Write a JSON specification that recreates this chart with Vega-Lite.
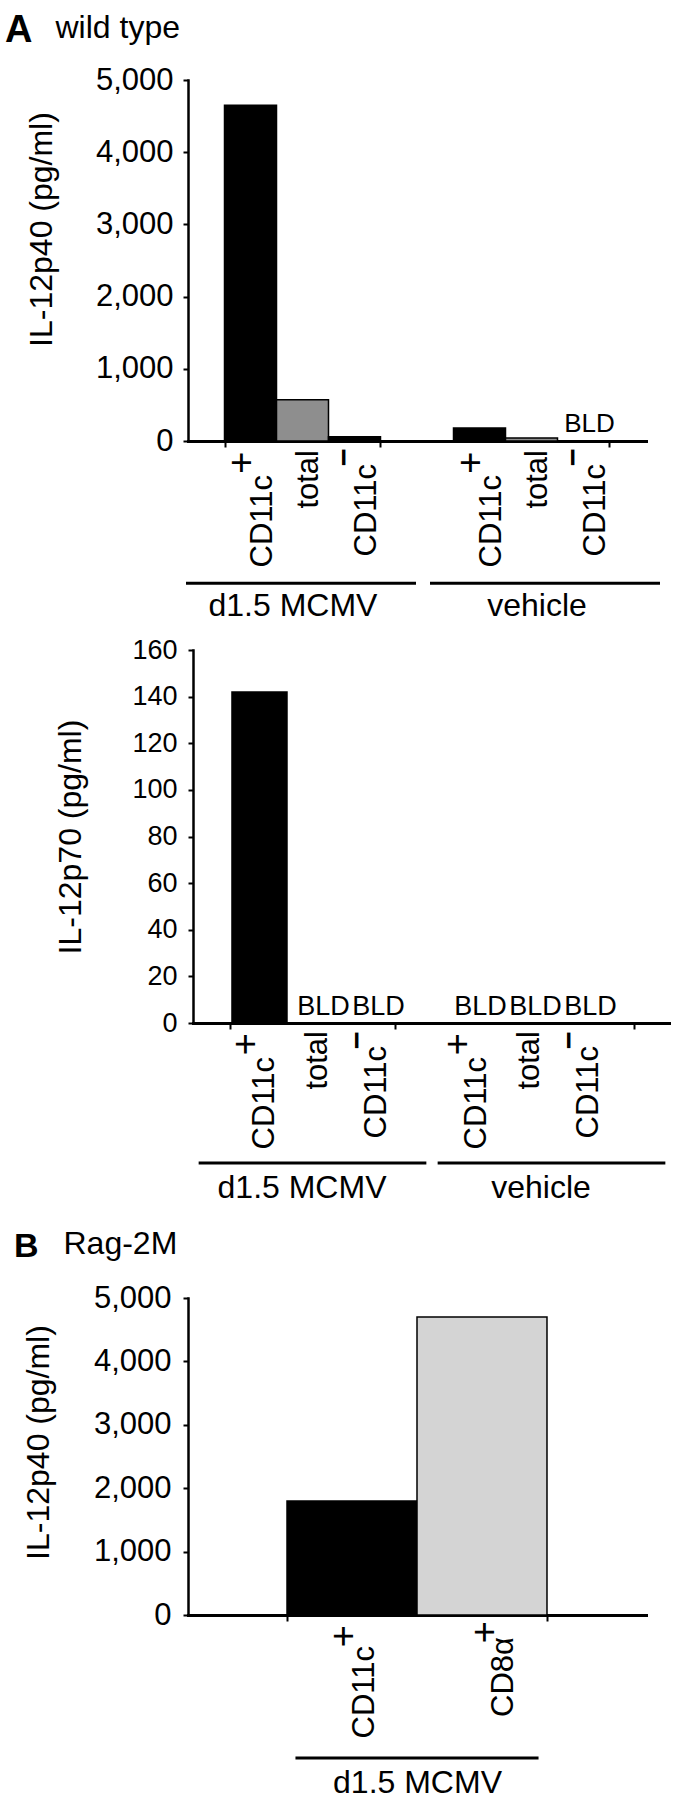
{
  "$schema": "https://vega.github.io/schema/vega-lite/v6.json",
  "padding": {"left": 5, "top": 11, "right": 0, "bottom": 0},
  "background": "white",
  "bounds": "flush",
  "spacing": 209,
  "resolve": {"scale": {"color": "independent", "xOffset": "independent"}},
  "config": {
    "font": "Liberation Sans",
    "view": {"stroke": null},
    "axis": {"domainColor": "black", "domainWidth": 3, "domainCap": "square", "tickColor": "black", "tickWidth": 2, "labelColor": "black", "titleColor": "black", "labelFont": "Liberation Sans", "titleFont": "Liberation Sans", "titleFontWeight": "normal", "grid": false},
    "text": {"font": "Liberation Sans", "color": "black"},
    "title": {"font": "Liberation Sans", "color": "black"}
  },
  "vconcat": [
    {
      "width": 458,
      "height": 361,
      "title": {"text": "A", "anchor": "start", "frame": "group", "dx": -183, "fontSize": 38, "fontWeight": "bold", "offset": -39},
      "data": {"values": [
        {"group": "d1.5 MCMV", "type": "CD11c+", "base": "CD11c", "sup": "+", "value": 4650},
        {"group": "d1.5 MCMV", "type": "total", "base": "total", "sup": "", "value": 570},
        {"group": "d1.5 MCMV", "type": "CD11c−", "base": "CD11c", "sup": "−", "value": 60},
        {"group": "vehicle", "type": "CD11c+", "base": "CD11c", "sup": "+", "value": 180},
        {"group": "vehicle", "type": "total", "base": "total", "sup": "", "value": 40},
        {"group": "vehicle", "type": "CD11c−", "base": "CD11c", "sup": "−", "value": 0, "note": "BLD"}
      ]},
      "resolve": {"scale": {"x": "independent"}, "axis": {"x": "independent"}},
      "layer": [
        {
          "encoding": {
            "x": {"field": "group", "type": "nominal", "sort": ["d1.5 MCMV", "vehicle"], "scale": {"paddingInner": 0.3188, "paddingOuter": 0.1594},
              "axis": {"orient": "bottom", "title": "wild type", "titleX": -133, "titleY": -404, "titleAlign": "left", "titleBaseline": "alphabetic", "titleFontSize": 32, "labels": false, "tickBand": "extent", "tickSize": 6}}
          },
          "layer": [
            {"mark": {"type": "bar", "stroke": "black", "strokeWidth": 1.5},
             "encoding": {
               "xOffset": {"field": "type", "type": "nominal", "sort": ["CD11c+", "total", "CD11c−"], "scale": {"paddingInner": 0, "paddingOuter": 0}},
               "y": {"field": "value", "type": "quantitative", "scale": {"domain": [0, 5000], "nice": false},
                 "axis": {"title": "IL-12p40 (pg/ml)", "values": [0, 500, 1000, 1500, 2000, 2500, 3000, 3500, 4000, 4500, 5000], "labelExpr": "datum.value % 1000 === 0 ? format(datum.value, ',') : ''", "labelFontSize": 31, "labelPadding": 10, "tickSize": 5, "domainWidth": 2.5, "titleFontSize": 32, "titlePadding": 37, "titleY": 149}},
               "color": {"field": "type", "type": "nominal", "scale": {"domain": ["CD11c+", "total", "CD11c−"], "range": ["#000000", "#8e8e8e", "#000000"]}, "legend": null}
             }},
            {"transform": [{"filter": "isValid(datum.note)"}],
             "mark": {"type": "text", "baseline": "alphabetic", "fontSize": 26, "dx": 6, "dy": -9},
             "encoding": {"xOffset": {"field": "type", "type": "nominal", "sort": ["CD11c+", "total", "CD11c−"]}, "y": {"field": "value", "type": "quantitative"}, "text": {"field": "note"}}},
            {"transform": [{"filter": "datum.type === 'CD11c+'"}],
             "mark": {"type": "text", "angle": 270, "align": "right", "baseline": "middle", "fontSize": 31, "dx": -34, "dy": 12.5},
             "encoding": {"xOffset": {"field": "type", "type": "nominal", "sort": ["CD11c+", "total", "CD11c−"]}, "y": {"datum": 0}, "text": {"field": "base"}}},
            {"transform": [{"filter": "datum.type === 'CD11c−'"}],
             "mark": {"type": "text", "angle": 270, "align": "right", "baseline": "middle", "fontSize": 31, "dx": -23, "dy": 13},
             "encoding": {"xOffset": {"field": "type", "type": "nominal", "sort": ["CD11c+", "total", "CD11c−"]}, "y": {"datum": 0}, "text": {"field": "base"}}},
            {"transform": [{"filter": "datum.type === 'total'"}],
             "mark": {"type": "text", "angle": 270, "align": "right", "baseline": "middle", "fontSize": 31, "dx": -9, "dy": 6},
             "encoding": {"xOffset": {"field": "type", "type": "nominal", "sort": ["CD11c+", "total", "CD11c−"]}, "y": {"datum": 0}, "text": {"field": "base"}}},
            {"transform": [{"filter": "datum.sup === '+'"}],
             "mark": {"type": "text", "angle": 270, "align": "right", "baseline": "middle", "fontSize": 38, "dx": -10.5, "dy": -8},
             "encoding": {"xOffset": {"field": "type", "type": "nominal", "sort": ["CD11c+", "total", "CD11c−"]}, "y": {"datum": 0}, "text": {"field": "sup"}}},
            {"transform": [{"filter": "datum.sup === '−'"}],
             "mark": {"type": "text", "angle": 270, "align": "right", "baseline": "middle", "fontSize": 31, "fontWeight": "bold", "dx": -7.5, "dy": -9},
             "encoding": {"xOffset": {"field": "type", "type": "nominal", "sort": ["CD11c+", "total", "CD11c−"]}, "y": {"datum": 0}, "text": {"field": "sup"}}}
          ]
        },
        {"data": {"values": [{"group": "d1.5 MCMV"}, {"group": "vehicle"}]},
         "mark": {"type": "bar", "color": "black"},
         "encoding": {
           "x": {"field": "group", "type": "nominal", "sort": ["d1.5 MCMV", "vehicle"], "scale": {"range": [-2, 472], "paddingInner": 0.0574, "paddingOuter": 0},
             "axis": {"orient": "bottom", "title": null, "domain": false, "tickOpacity": 0, "tickSize": 6, "labelAngle": 0, "labelFontSize": 32, "labelPadding": 143, "labelOffset": -8, "labelLimit": 0, "labelOverlap": false}},
           "y": {"datum": -1950}, "y2": {"datum": -1992}}}
      ]
    },
    {
      "width": 483,
      "height": 373,
      "data": {"values": [
        {"group": "d1.5 MCMV", "type": "CD11c+", "base": "CD11c", "sup": "+", "value": 142},
        {"group": "d1.5 MCMV", "type": "total", "base": "total", "sup": "", "value": 0, "note": "BLD"},
        {"group": "d1.5 MCMV", "type": "CD11c−", "base": "CD11c", "sup": "−", "value": 0, "note": "BLD"},
        {"group": "vehicle", "type": "CD11c+", "base": "CD11c", "sup": "+", "value": 0, "note": "BLD"},
        {"group": "vehicle", "type": "total", "base": "total", "sup": "", "value": 0, "note": "BLD"},
        {"group": "vehicle", "type": "CD11c−", "base": "CD11c", "sup": "−", "value": 0, "note": "BLD"}
      ]},
      "resolve": {"scale": {"x": "independent"}, "axis": {"x": "independent"}},
      "layer": [
        {
          "encoding": {
            "x": {"field": "group", "type": "nominal", "sort": ["d1.5 MCMV", "vehicle"], "scale": {"range": [5, 483], "paddingInner": 0.2217, "paddingOuter": 0.2382, "align": 0.386},
              "axis": {"orient": "bottom", "title": null, "labels": false, "ticks": false, "domain": true}}
          },
          "layer": [
            {"mark": {"type": "bar", "stroke": "black", "strokeWidth": 1.5},
             "encoding": {
               "xOffset": {"field": "type", "type": "nominal", "sort": ["CD11c+", "total", "CD11c−"], "scale": {"paddingInner": 0, "paddingOuter": 0}},
               "y": {"field": "value", "type": "quantitative", "scale": {"domain": [0, 160], "nice": false},
                 "axis": {"title": "IL-12p70 (pg/ml)", "offset": -5, "values": [0, 20, 40, 60, 80, 100, 120, 140, 160], "labelFontSize": 27, "labelPadding": 11, "tickSize": 5, "domainWidth": 2.5, "titleFontSize": 32, "titlePadding": 44}},
               "color": {"field": "type", "type": "nominal", "scale": {"domain": ["CD11c+", "total", "CD11c−"], "range": ["#000000", "#8e8e8e", "#000000"]}, "legend": null}
             }},
            {"transform": [{"filter": "isValid(datum.note)"}],
             "mark": {"type": "text", "baseline": "alphabetic", "fontSize": 27, "dx": 9, "dy": -8},
             "encoding": {"xOffset": {"field": "type", "type": "nominal", "sort": ["CD11c+", "total", "CD11c−"]}, "y": {"field": "value", "type": "quantitative"}, "text": {"field": "note"}}},
            {"transform": [{"filter": "datum.type === 'CD11c+'"}],
             "mark": {"type": "text", "angle": 270, "align": "right", "baseline": "middle", "fontSize": 31, "dx": -34, "dy": 6},
             "encoding": {"xOffset": {"field": "type", "type": "nominal", "sort": ["CD11c+", "total", "CD11c−"]}, "y": {"datum": 0}, "text": {"field": "base"}}},
            {"transform": [{"filter": "datum.type === 'CD11c−'"}],
             "mark": {"type": "text", "angle": 270, "align": "right", "baseline": "middle", "fontSize": 31, "dx": -23, "dy": 8},
             "encoding": {"xOffset": {"field": "type", "type": "nominal", "sort": ["CD11c+", "total", "CD11c−"]}, "y": {"datum": 0}, "text": {"field": "base"}}},
            {"transform": [{"filter": "datum.type === 'total'"}],
             "mark": {"type": "text", "angle": 270, "align": "right", "baseline": "middle", "fontSize": 31, "dx": -8, "dy": 4},
             "encoding": {"xOffset": {"field": "type", "type": "nominal", "sort": ["CD11c+", "total", "CD11c−"]}, "y": {"datum": 0}, "text": {"field": "base"}}},
            {"transform": [{"filter": "datum.sup === '+'"}],
             "mark": {"type": "text", "angle": 270, "align": "right", "baseline": "middle", "fontSize": 38, "dx": -10, "dy": -12},
             "encoding": {"xOffset": {"field": "type", "type": "nominal", "sort": ["CD11c+", "total", "CD11c−"]}, "y": {"datum": 0}, "text": {"field": "sup"}}},
            {"transform": [{"filter": "datum.sup === '−'"}],
             "mark": {"type": "text", "angle": 270, "align": "right", "baseline": "middle", "fontSize": 31, "fontWeight": "bold", "dx": -8.5, "dy": -11.4},
             "encoding": {"xOffset": {"field": "type", "type": "nominal", "sort": ["CD11c+", "total", "CD11c−"]}, "y": {"datum": 0}, "text": {"field": "sup"}}}
          ]
        },
        {"data": {"values": [{"group": "d1.5 MCMV"}, {"group": "vehicle"}]},
         "mark": {"type": "bar", "color": "black", "width": {"band": 1.38}},
         "encoding": {
           "x": {"field": "group", "type": "nominal", "sort": ["d1.5 MCMV", "vehicle"], "scale": {"range": [5, 483], "paddingInner": 0.3096, "paddingOuter": 0.1548},
             "axis": {"orient": "bottom", "title": null, "domain": false, "labelAngle": 0, "labelFontSize": 32, "labelPadding": 143, "labelOffset": -11, "labelLimit": 0, "labelOverlap": false, "tickBand": "extent", "tickSize": 6}},
           "y": {"datum": -59.4}, "y2": {"datum": -60.7}}}
      ]
    },
    {
      "width": 458,
      "height": 383,
      "title": {"text": "B", "anchor": "start", "frame": "group", "dx": -174, "fontSize": 34, "fontWeight": "bold", "offset": -37},
      "data": {"values": [
        {"group": "d1.5 MCMV", "type": "CD11c+", "base": "CD11c", "sup": "+", "value": 1800},
        {"group": "d1.5 MCMV", "type": "CD8α+", "base": "CD8α", "sup": "+", "value": 4700}
      ]},
      "encoding": {
        "x": {"field": "group", "type": "nominal", "scale": {"paddingInner": 0.4323, "paddingOuter": 0.2162},
          "axis": {"title": "Rag-2M", "titleX": -125, "titleY": -362, "titleAlign": "left", "titleBaseline": "alphabetic", "titleFontSize": 32, "labelAngle": 0, "labelFontSize": 32, "labelPadding": 146, "labelLimit": 0, "labelOverlap": false, "tickBand": "extent", "tickSize": 6}}
      },
      "layer": [
        {"mark": {"type": "bar", "stroke": "black", "strokeWidth": 1.5},
         "encoding": {
           "xOffset": {"field": "type", "type": "nominal", "sort": ["CD11c+", "CD8α+"], "scale": {"paddingInner": 0, "paddingOuter": 0}},
           "y": {"field": "value", "type": "quantitative", "scale": {"domain": [0, 5000], "nice": false, "range": [383, 66]},
             "axis": {"title": "IL-12p40 (pg/ml)", "values": [0, 500, 1000, 1500, 2000, 2500, 3000, 3500, 4000, 4500, 5000], "labelExpr": "datum.value % 1000 === 0 ? format(datum.value, ',') : ''", "labelFontSize": 31, "labelPadding": 12, "tickSize": 5, "domainWidth": 2.5, "titleFontSize": 32, "titlePadding": 37.5, "titleY": 210}},
           "color": {"field": "type", "type": "nominal", "scale": {"domain": ["CD11c+", "CD8α+"], "range": ["#000000", "#d4d4d4"]}, "legend": null}
         }},
        {"transform": [{"filter": "datum.type === 'CD11c+'"}],
         "mark": {"type": "text", "angle": 270, "align": "right", "baseline": "middle", "fontSize": 31, "dx": -31, "dy": 13},
         "encoding": {"xOffset": {"field": "type", "type": "nominal", "sort": ["CD11c+", "CD8α+"]}, "y": {"datum": 0}, "text": {"field": "base"}}},
        {"transform": [{"filter": "datum.type === 'CD8α+'"}],
         "mark": {"type": "text", "angle": 270, "align": "right", "baseline": "middle", "fontSize": 31, "dx": -22, "dy": 22},
         "encoding": {"xOffset": {"field": "type", "type": "nominal", "sort": ["CD11c+", "CD8α+"]}, "y": {"datum": 0}, "text": {"field": "base"}}},
        {"transform": [{"filter": "datum.type === 'CD11c+'"}],
         "mark": {"type": "text", "angle": 270, "align": "right", "baseline": "middle", "fontSize": 38, "dx": -10, "dy": -7},
         "encoding": {"xOffset": {"field": "type", "type": "nominal", "sort": ["CD11c+", "CD8α+"]}, "y": {"datum": 0}, "text": {"field": "sup"}}},
        {"transform": [{"filter": "datum.type === 'CD8α+'"}],
         "mark": {"type": "text", "angle": 270, "align": "right", "baseline": "middle", "fontSize": 38, "dx": -6, "dy": 4},
         "encoding": {"xOffset": {"field": "type", "type": "nominal", "sort": ["CD11c+", "CD8α+"]}, "y": {"datum": 0}, "text": {"field": "sup"}}},
        {"data": {"values": [{"group": "d1.5 MCMV"}]},
         "mark": {"type": "bar", "color": "black", "width": {"band": 0.935}},
         "encoding": {"y": {"datum": -2232}, "y2": {"datum": -2279}}}
      ]
    }
  ]
}
